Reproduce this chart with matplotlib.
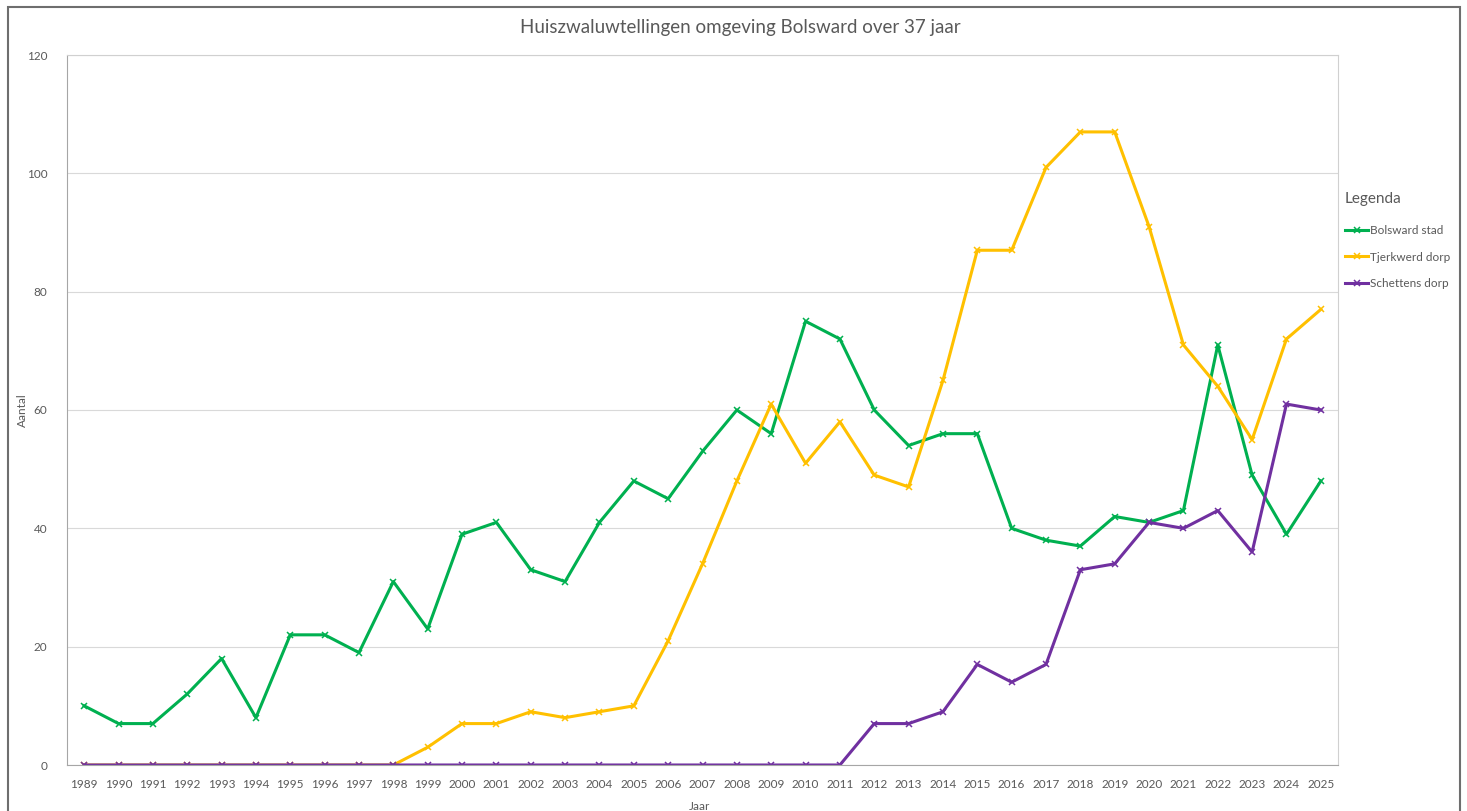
import numpy as np
import matplotlib.pyplot as plt
from matplotlib.patches import Rectangle

plt.rcParams['font.family'] = ['Lato', 'DejaVu Sans']

jaren = list(range(1989, 2026))
bolsward = [10, 7, 7, 12, 18, 8, 22, 22, 19, 31, 23, 39, 41, 33, 31, 41, 48, 45, 53, 60,
            56, 75, 72, 60, 54, 56, 56, 40, 38, 37, 42, 41, 43, 71, 49, 39, 48]
tjerkwerd = [0, 0, 0, 0, 0, 0, 0, 0, 0, 0, 3, 7, 7, 9, 8, 9, 10, 21, 34, 48,
             61, 51, 58, 49, 47, 65, 87, 87, 101, 107, 107, 91, 71, 64, 55, 72, 77]
schettens = [0, 0, 0, 0, 0, 0, 0, 0, 0, 0, 0, 0, 0, 0, 0, 0, 0, 0, 0, 0,
             0, 0, 0, 7, 7, 9, 17, 14, 17, 33, 34, 41, 40, 43, 36, 61, 60]

namen = ['Bolsward stad', 'Tjerkwerd dorp', 'Schettens dorp']
kleuren = ['#00B050', '#FFC000', '#7030A0']

fig = plt.figure(figsize=(14.67, 8.11), dpi=100)
# outer chart border like excel
fig.patches.append(Rectangle((8 / 1467, -0.02), 1452 / 1467, 1.0 - 7 / 811 + 0.02,
                             transform=fig.transFigure, fill=False,
                             edgecolor='#6e6e6e', linewidth=1.5))

ax = fig.add_axes([67 / 1467, 1 - 765 / 811, (1338 - 67) / 1467, (765 - 55) / 811])
x = np.arange(len(jaren))
for serie, naam, kleur in zip([bolsward, tjerkwerd, schettens], namen, kleuren):
    ax.plot(x, serie, color=kleur, linewidth=2.2, marker='x', markersize=5,
            markeredgewidth=1.1, label=naam, solid_joinstyle='round')

ax.set_xlim(-0.5, len(jaren) - 0.5)
ax.set_ylim(0, 120)
ax.set_yticks(range(0, 121, 20))
ax.set_xticks(x)
ax.set_xticklabels([str(j) for j in jaren])
ax.tick_params(axis='both', labelsize=8.5, colors='#595959', length=0)
ax.tick_params(axis='x', pad=10)
ax.tick_params(axis='y', pad=14)
ax.grid(axis='y', color='#d9d9d9', linewidth=0.8)
ax.set_axisbelow(True)
for s in ['top', 'right']:
    ax.spines[s].set_color('#d0d0d0')
for s in ['left', 'bottom']:
    ax.spines[s].set_color('#a6a6a6')

fig.text(22 / 1467, 1 - 410 / 811, 'Aantal', fontsize=8.5, color='#595959',
         ha='center', va='center', rotation=90)
fig.text(700 / 1467, 1 - 806 / 811, 'Jaar', fontsize=8.5, color='#595959',
         ha='center', va='center')
fig.text(740 / 1467, 1 - 27 / 811, 'Huiszwaluwtellingen omgeving Bolsward over 37 jaar',
         fontsize=13.5, color='#595959', ha='center', va='center')

leg = ax.legend(loc='upper left', bbox_to_anchor=(1340 / 1467, 1 - 187 / 811),
                bbox_transform=fig.transFigure, frameon=False, fontsize=8.5,
                title='Legenda', title_fontsize=11, handlelength=2.0,
                handletextpad=0.1, labelspacing=1.3, borderaxespad=0,
                markerscale=0.9)
leg._legend_box.align = 'left'
leg._legend_box.sep = 14
for t in leg.get_texts():
    t.set_color('#595959')
leg.get_title().set_color('#595959')

fig.savefig('out.png', dpi=100)
